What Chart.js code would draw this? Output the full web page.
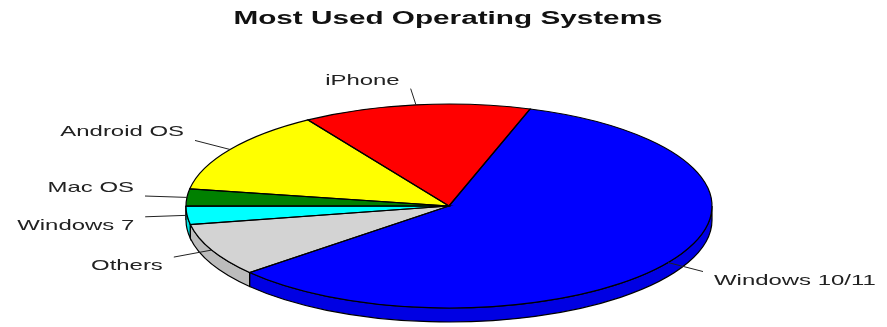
<!DOCTYPE html>
<html>
<head>
<meta charset="utf-8">
<script src="https://cdn.jsdelivr.net/npm/chart.js@4/dist/chart.umd.min.js"></script>
<style>
  html, body { margin: 0; padding: 0; background: #fff; }
  #wrap { width: 887px; height: 327px; position: relative; }
</style>
</head>
<body>
<div id="wrap"><canvas id="pie-chart"></canvas></div>
<script>
// values (share of users, %)
const categories  = ['Windows 10/11', 'iPhone', 'Android OS', 'Mac OS', 'Windows 7', 'Others'];
const shares      = [58.7, 14.0, 13.3, 2.7, 2.9, 8.4];
const sliceColors = ['#0000ff', '#ff0000', '#ffff00', '#008000', '#00ffff', '#d3d3d3'];
const chartTitle  = 'Most Used Operating Systems';

const SQUASH  = 102 / 263;  // how flat the pie looks
const DEPTH   = 14;         // height of the side wall
const STRETCH = 1.65;       // the original text is stretched sideways
const TAU = Math.PI * 2;

function shade(hex, f) {
  const n = parseInt(hex.slice(1), 16);
  const r = Math.round(((n >> 16) & 255) * f);
  const g = Math.round(((n >> 8) & 255) * f);
  const b = Math.round((n & 255) * f);
  return `rgb(${r},${g},${b})`;
}

function wideText(ctx, txt, x, y, align) {
  ctx.save();
  ctx.translate(x, y);
  ctx.scale(STRETCH, 1);
  ctx.textAlign = align;
  ctx.fillText(txt, 0, 0);
  ctx.restore();
}

// flattens the library's pie into an ellipse and adds the 3d wall, outlines, labels
const pie3d = {
  id: 'pie3d',
  beforeDatasetsDraw(chart) {
    const ctx = chart.ctx;
    const arcs = chart.getDatasetMeta(0).data;
    ctx.save();
    ctx.strokeStyle = '#000';
    ctx.lineWidth = 1.2;
    arcs.forEach((a, i) => {
      const rx = a.outerRadius, ry = rx * SQUASH;
      // on screen the face is flipped, so screen angle = -chart angle
      const span = a.endAngle - a.startAngle;
      const b1 = ((-a.endAngle % TAU) + TAU) % TAU;
      const b2 = b1 + span;
      [[0, Math.PI], [TAU, TAU + Math.PI]].forEach(([lo, hi]) => {
        const s = Math.max(b1, lo), e = Math.min(b2, hi);
        if (e <= s) return;
        ctx.beginPath();
        ctx.ellipse(a.x, a.y, rx, ry, 0, s, e, false);
        ctx.ellipse(a.x, a.y + DEPTH, rx, ry, 0, e, s, true);
        ctx.closePath();
        ctx.fillStyle = shade(sliceColors[i], 0.89);
        ctx.fill();
        ctx.stroke();
      });
    });
    ctx.restore();

    const a0 = arcs[0];
    ctx.save();
    ctx.translate(a0.x, a0.y);
    ctx.scale(1, -SQUASH);
    ctx.translate(-a0.x, -a0.y);
  },
  afterDatasetsDraw(chart) {
    const ctx = chart.ctx;
    ctx.restore();
    const arcs = chart.getDatasetMeta(0).data;

    ctx.save();
    ctx.strokeStyle = '#000';
    ctx.lineWidth = 1.2;
    arcs.forEach(a => {
      const rx = a.outerRadius, ry = rx * SQUASH;
      ctx.beginPath();
      ctx.moveTo(a.x, a.y);
      ctx.ellipse(a.x, a.y, rx, ry, 0, -a.startAngle, -a.endAngle, true);
      ctx.closePath();
      ctx.stroke();
    });

    // leader lines + labels
    ctx.font = '14.5px "Liberation Sans", Arial, sans-serif';
    ctx.fillStyle = '#222';
    ctx.strokeStyle = '#222';
    ctx.lineWidth = 1;
    ctx.textBaseline = 'alphabetic';
    arcs.forEach((a, i) => {
      const rx = a.outerRadius, ry = rx * SQUASH;
      const m = (a.startAngle + a.endAngle) / 2;
      const c = Math.cos(m), s = Math.sin(m);
      const x0 = a.x + rx * c, y0 = a.y - ry * s;
      const x1 = a.x + rx * 1.16 * c, y1 = a.y - ry * 1.16 * s;
      ctx.beginPath();
      ctx.moveTo(x0, y0);
      ctx.lineTo(x1, y1);
      ctx.stroke();
      const tx = c < 0 ? x1 - 11 : x1 + 11;
      const ty = (s > 0 ? y1 - 9 : y1 + 8) + 5;
      wideText(ctx, categories[i], tx, ty, c < 0 ? 'right' : 'left');
    });

    ctx.font = 'bold 18px "Liberation Sans", Arial, sans-serif';
    ctx.fillStyle = '#111';
    wideText(ctx, chartTitle, 448, 24, 'center');
    ctx.restore();
  }
};

new Chart(document.getElementById('pie-chart').getContext('2d'), {
  type: 'pie',
  data: {
    labels: categories,
    datasets: [{
      data: shares,
      backgroundColor: sliceColors,
      borderWidth: 0,
      borderColor: 'rgba(0,0,0,0)',
      clip: false
    }]
  },
  options: {
    responsive: true,
    maintainAspectRatio: false,
    animation: false,
    events: [],
    rotation: 310.7,
    radius: 263,
    layout: { padding: { left: 11, right: 0, top: 85, bottom: 0 } },
    plugins: {
      legend: { display: false },
      tooltip: { enabled: false },
      title: { display: false }
    }
  },
  plugins: [pie3d]
});
</script>
</body>
</html>
